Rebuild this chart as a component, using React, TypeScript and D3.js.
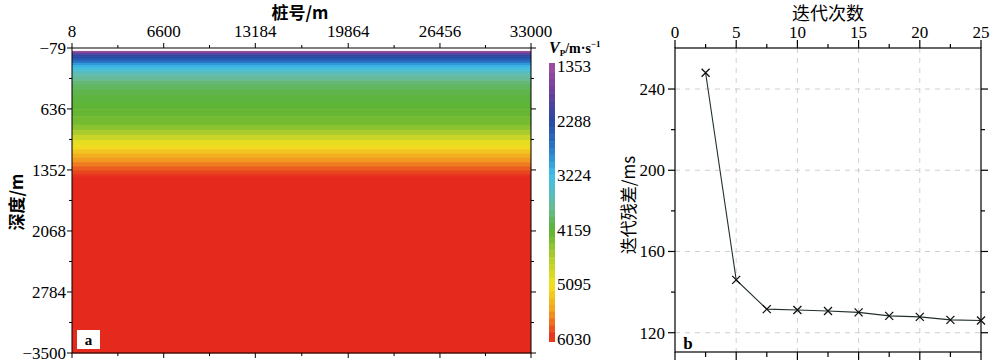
import React from "react";
import * as d3 from "d3";

// panel a: station / depth axes
const stationTicks = [8, 6600, 13184, 19864, 26456, 33000];
const depthTicks = [-79, 636, 1352, 2068, 2784, 3500];
const depthTickLabels = ["−79", "636", "1352", "2068", "2784", "−3500"];
const velocityTicks = [1353, 2288, 3224, 4159, 5095, 6030];

// velocity profile (depth m -> Vp m/s)
const profileDepth = [-45, -25, -5, 20, 45, 70, 95, 120, 150, 180, 210, 250, 300, 350, 410, 480, 560, 640, 720, 820, 880, 940, 1000, 1060, 1110, 1160, 1210, 1260, 1310, 1360, 1400, 1430, 3500];
const profileVp = [1400, 1900, 2200, 2350, 2500, 2700, 2950, 3150, 3300, 3450, 3600, 3750, 3880, 3980, 4060, 4120, 4170, 4220, 4300, 4420, 4600, 4800, 5000, 5150, 5300, 5450, 5580, 5700, 5820, 5920, 5990, 6030, 6030];

// colour stops of the velocity bar
const colorStops = [1353, 1800, 2288, 2750, 3224, 3700, 4159, 4650, 5095, 5550, 6030];
const colorValues = ["#a0519f", "#6a3f9a", "#2848a0", "#2a78c8", "#3fbfe8", "#68bca4", "#5cb334", "#b4cf2e", "#f2e21f", "#f3a020", "#e5291d"];

// panel b: iteration residuals
const iterTicks = [0, 5, 10, 15, 20, 25];
const residualTicks = [120, 160, 200, 240];
const iterations = [2.5, 5, 7.5, 10, 12.5, 15, 17.5, 20, 22.5, 25];
const residuals = [248, 146, 131.6, 131.2, 130.7, 130, 128.3, 127.8, 126.3, 126];

const serif = { fontFamily: "Liberation Serif, Times New Roman, DejaVu Serif, serif" };
const cjk = { fontFamily: "Noto Sans CJK SC, sans-serif" };

export default function App() {
  // panel a
  const ax = d3.scaleLinear().domain([8, 33000]).range([72, 531]);
  const ay = d3.scaleLinear().domain([-79, 3500]).range([48, 353]);
  const color = d3.scaleLinear<string>().domain(colorStops).range(colorValues).clamp(true);
  const cbar = d3.scaleLinear().domain([1353, 6030]).range([66, 339]);
  const nSteps = 40;
  const step = (6030 - 1353) / nSteps;
  const cbarSteps = d3.range(nSteps).map((i) => 1353 + i * step);

  const bands = profileDepth.slice(0, -1).map((d, i) => ({
    y0: ay(d),
    y1: ay(profileDepth[i + 1]),
    v: profileVp[i],
  }));

  const xMinor: number[] = [];
  stationTicks.slice(0, -1).forEach((t, i) => xMinor.push((t + stationTicks[i + 1]) / 2));
  const yMinor: number[] = [];
  depthTicks.slice(0, -1).forEach((t, i) => yMinor.push((t + depthTicks[i + 1]) / 2));

  // panel b
  const bx = d3.scaleLinear().domain([0, 25]).range([675, 981]);
  const by = d3.scaleLinear().domain([110.5, 260.2]).range([352, 48]);
  const iterMinor = d3.range(2.5, 25, 5);
  const resMinor = [140, 180, 220];
  const line = d3
    .line<number>()
    .x((_, i) => bx(iterations[i]))
    .y((d) => by(d));

  return (
    <svg
      width={1000}
      height={364}
      style={{ position: "absolute", left: 0, top: 0, display: "block", background: "#fff" }}
    >
      {/* ---------- panel a ---------- */}
      <g>
        {bands.map((b, i) => (
          <rect key={i} x={72} y={b.y0} width={459} height={b.y1 - b.y0 + 0.5} fill={color(b.v)} />
        ))}
        <rect x={72} y={48} width={459} height={305} fill="none" stroke="#000" strokeWidth={1} />

        {stationTicks.map((t) => (
          <g key={t}>
            <line x1={ax(t)} x2={ax(t)} y1={48} y2={43} stroke="#000" />
            <line x1={ax(t)} x2={ax(t)} y1={353} y2={358} stroke="#000" />
            <text x={ax(t)} y={37} textAnchor="middle" style={serif} fontSize={17}>
              {t}
            </text>
          </g>
        ))}
        {xMinor.map((t) => (
          <g key={t}>
            <line x1={ax(t)} x2={ax(t)} y1={48} y2={45} stroke="#000" />
            <line x1={ax(t)} x2={ax(t)} y1={353} y2={356} stroke="#000" />
          </g>
        ))}
        {depthTicks.map((t, i) => (
          <g key={t}>
            <line x1={72} x2={67} y1={ay(t)} y2={ay(t)} stroke="#000" />
            <line x1={531} x2={536} y1={ay(t)} y2={ay(t)} stroke="#000" />
            <text x={66} y={ay(t)} dy="0.35em" textAnchor="end" style={serif} fontSize={17}>
              {depthTickLabels[i]}
            </text>
          </g>
        ))}
        {yMinor.map((t) => (
          <g key={t}>
            <line x1={72} x2={69} y1={ay(t)} y2={ay(t)} stroke="#000" />
            <line x1={531} x2={534} y1={ay(t)} y2={ay(t)} stroke="#000" />
          </g>
        ))}
        <text x={300} y={11} dominantBaseline="central" textAnchor="middle" style={cjk} fontSize={17} fontWeight={700}>
          桩号/m
        </text>
        <text
          transform="translate(15,202) rotate(-90)"
          dominantBaseline="central"
          textAnchor="middle"
          style={cjk}
          fontSize={17}
          fontWeight={700}
        >
          深度/m
        </text>
        <rect x={77} y={330} width={23} height={19} fill="#fff" />
        <text x={88.5} y={340} dy="0.35em" textAnchor="middle" style={serif} fontSize={15} fontWeight={700}>
          a
        </text>

        {/* colour bar */}
        {cbarSteps.map((v, i) => {
          const y0 = i === 0 ? 63 : cbar(v);
          const y1 = i === nSteps - 1 ? 342 : cbar(v + step) + 0.5;
          return <rect key={i} x={549} y={y0} width={6} height={y1 - y0} fill={color(v + step / 2)} />;
        })}
        {velocityTicks.map((t) => (
          <text key={t} x={557} y={cbar(t)} dy="0.35em" style={serif} fontSize={17}>
            {t}
          </text>
        ))}
        <text x={549} y={53} style={serif} fontSize={14} fontWeight={700}>
          <tspan fontStyle="italic" fontSize={16}>V</tspan>
          <tspan fontSize={9} dy={3}>P</tspan>
          <tspan dy={-3}>/m·s</tspan>
          <tspan fontSize={9} dy={-6}>−1</tspan>
        </text>
      </g>

      {/* ---------- panel b ---------- */}
      <g>
        {iterTicks.slice(1, -1).map((t) => (
          <line key={t} x1={bx(t)} x2={bx(t)} y1={48} y2={352} stroke="#cfcfcf" strokeDasharray="5,5" />
        ))}
        {residualTicks.map((t) => (
          <line key={t} x1={675} x2={981} y1={by(t)} y2={by(t)} stroke="#cfcfcf" strokeDasharray="5,5" />
        ))}
        <rect x={675} y={48} width={306} height={304} fill="none" stroke="#000" strokeWidth={1.2} />

        {iterTicks.map((t) => (
          <g key={t}>
            <line x1={bx(t)} x2={bx(t)} y1={48} y2={40} stroke="#000" strokeWidth={1.2} />
            <line x1={bx(t)} x2={bx(t)} y1={352} y2={360} stroke="#000" strokeWidth={1.2} />
            <text x={bx(t)} y={38} textAnchor="middle" style={serif} fontSize={17}>
              {t}
            </text>
          </g>
        ))}
        {iterMinor.map((t) => (
          <g key={t}>
            <line x1={bx(t)} x2={bx(t)} y1={48} y2={44} stroke="#000" strokeWidth={1.2} />
            <line x1={bx(t)} x2={bx(t)} y1={352} y2={357} stroke="#000" strokeWidth={1.2} />
          </g>
        ))}
        {residualTicks.map((t) => (
          <g key={t}>
            <line x1={675} x2={668} y1={by(t)} y2={by(t)} stroke="#000" strokeWidth={1.2} />
            <line x1={981} x2={988} y1={by(t)} y2={by(t)} stroke="#000" strokeWidth={1.2} />
            <text x={665} y={by(t)} dy="0.35em" textAnchor="end" style={serif} fontSize={17}>
              {t}
            </text>
          </g>
        ))}
        {resMinor.map((t) => (
          <g key={t}>
            <line x1={675} x2={671} y1={by(t)} y2={by(t)} stroke="#000" strokeWidth={1.2} />
            <line x1={981} x2={985} y1={by(t)} y2={by(t)} stroke="#000" strokeWidth={1.2} />
          </g>
        ))}

        <path d={line(residuals) ?? ""} fill="none" stroke="#223030" strokeWidth={1.1} />
        {residuals.map((r, i) => {
          const cx = bx(iterations[i]);
          const cy = by(r);
          return (
            <path
              key={i}
              d={`M${cx - 4},${cy - 4}L${cx + 4},${cy + 4}M${cx - 4},${cy + 4}L${cx + 4},${cy - 4}`}
              stroke="#111"
              strokeWidth={1.3}
            />
          );
        })}

        <text x={828} y={12} dominantBaseline="central" textAnchor="middle" style={cjk} fontSize={18}>
          迭代次数
        </text>
        <text
          transform="translate(627,205) rotate(-90)"
          dominantBaseline="central"
          textAnchor="middle"
          style={cjk}
          fontSize={17}
        >
          迭代残差/ms
        </text>
        <text x={688} y={343} dy="0.35em" textAnchor="middle" style={serif} fontSize={17} fontWeight={700}>
          b
        </text>
      </g>
    </svg>
  );
}
